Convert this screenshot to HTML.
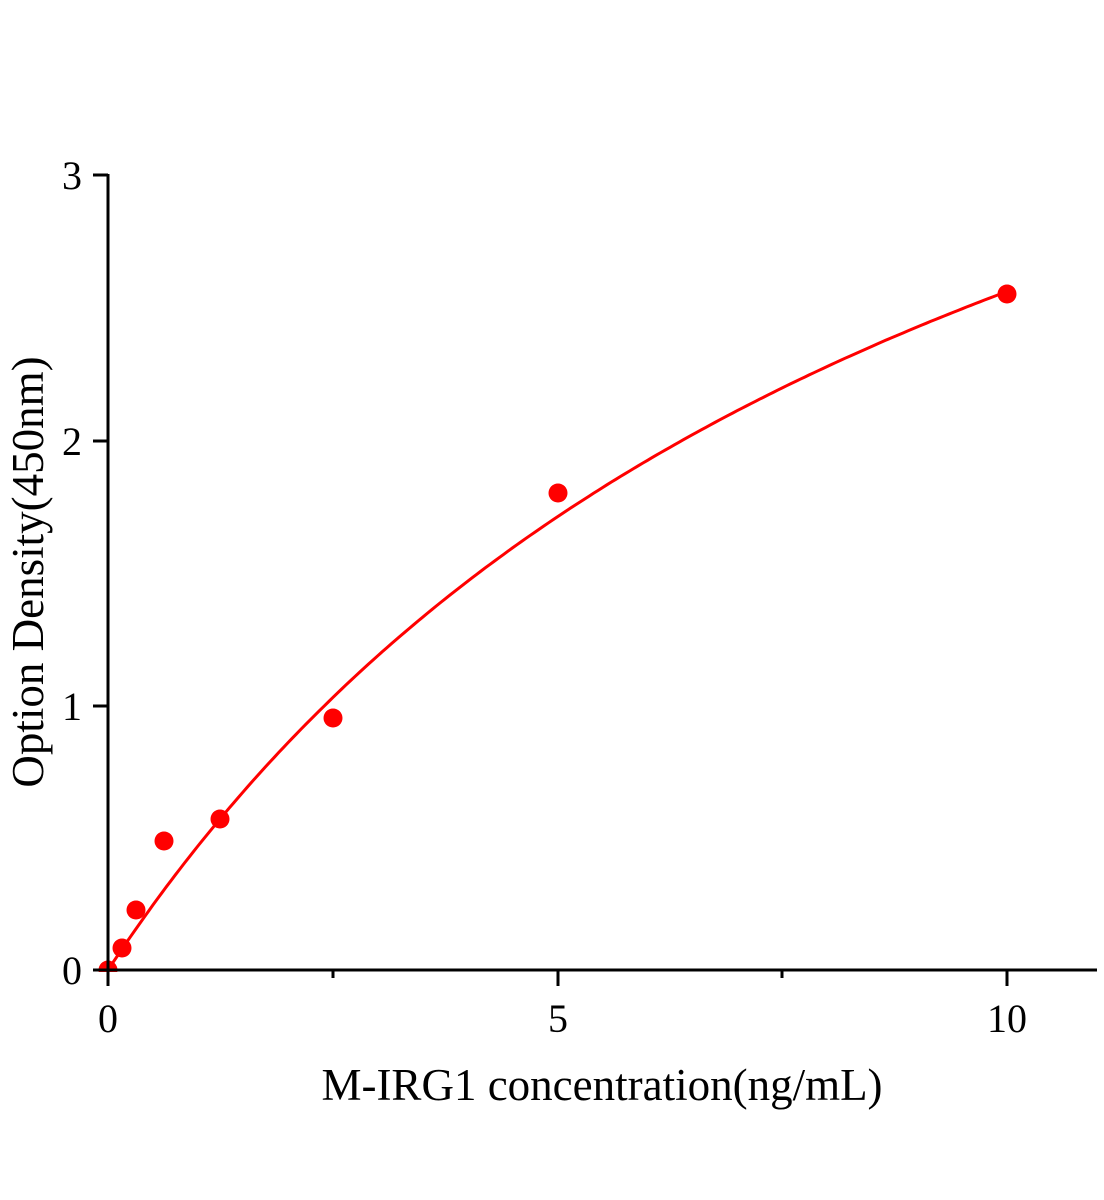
<!DOCTYPE html>
<html><head><style>body{margin:0;background:#fff}svg{display:block}</style></head><body>
<svg width="1104" height="1200" xmlns="http://www.w3.org/2000/svg" font-family="Liberation Serif, serif">
<g fill="#ff0000">
<circle cx="108" cy="970" r="9.5"/>
<circle cx="122" cy="948" r="9.5"/>
<circle cx="136" cy="910" r="9.5"/>
<circle cx="164" cy="841" r="9.5"/>
<circle cx="220" cy="819" r="9.5"/>
<circle cx="333" cy="718" r="9.5"/>
<circle cx="558" cy="493" r="9.5"/>
<circle cx="1007" cy="294" r="9.5"/>
</g>
<path id="c" fill="none" stroke="#ff0000" stroke-width="3"/>
<rect x="0" y="972" width="1104" height="30" fill="#fff"/>
<g stroke="#000" stroke-width="3">
<line x1="108" y1="174" x2="108" y2="986"/>
<line x1="93" y1="970" x2="1097" y2="970"/>
<line x1="93" y1="175" x2="108" y2="175"/>
<line x1="93" y1="441" x2="108" y2="441"/>
<line x1="93" y1="706" x2="108" y2="706"/>
<line x1="558" y1="970" x2="558" y2="986"/>
<line x1="1007" y1="970" x2="1007" y2="986"/>
<line x1="333" y1="970" x2="333" y2="978"/>
<line x1="782" y1="970" x2="782" y2="978"/>
</g>
<g font-size="40" text-anchor="end">
<text x="82" y="189">3</text><text x="82" y="455">2</text><text x="82" y="720">1</text><text x="82" y="984">0</text>
</g>
<g font-size="40" text-anchor="middle">
<text x="108" y="1032">0</text><text x="558" y="1032">5</text><text x="1007" y="1032">10</text>
</g>
<text x="602" y="1100" font-size="45" text-anchor="middle">M-IRG1 concentration(ng/mL)</text>
<text transform="translate(43,572) rotate(-90)" font-size="45" text-anchor="middle">Option Density(450nm)</text>
</svg>
<script>
var d="";for(var i=0;i<=200;i++){var x=i*0.05;var y=5.09*x/(9.88+x);d+=(i?"L":"M")+(108+x*89.9).toFixed(1)+","+(970-y*265).toFixed(1);}
document.getElementById("c").setAttribute("d",d);
</script>
</body></html>
